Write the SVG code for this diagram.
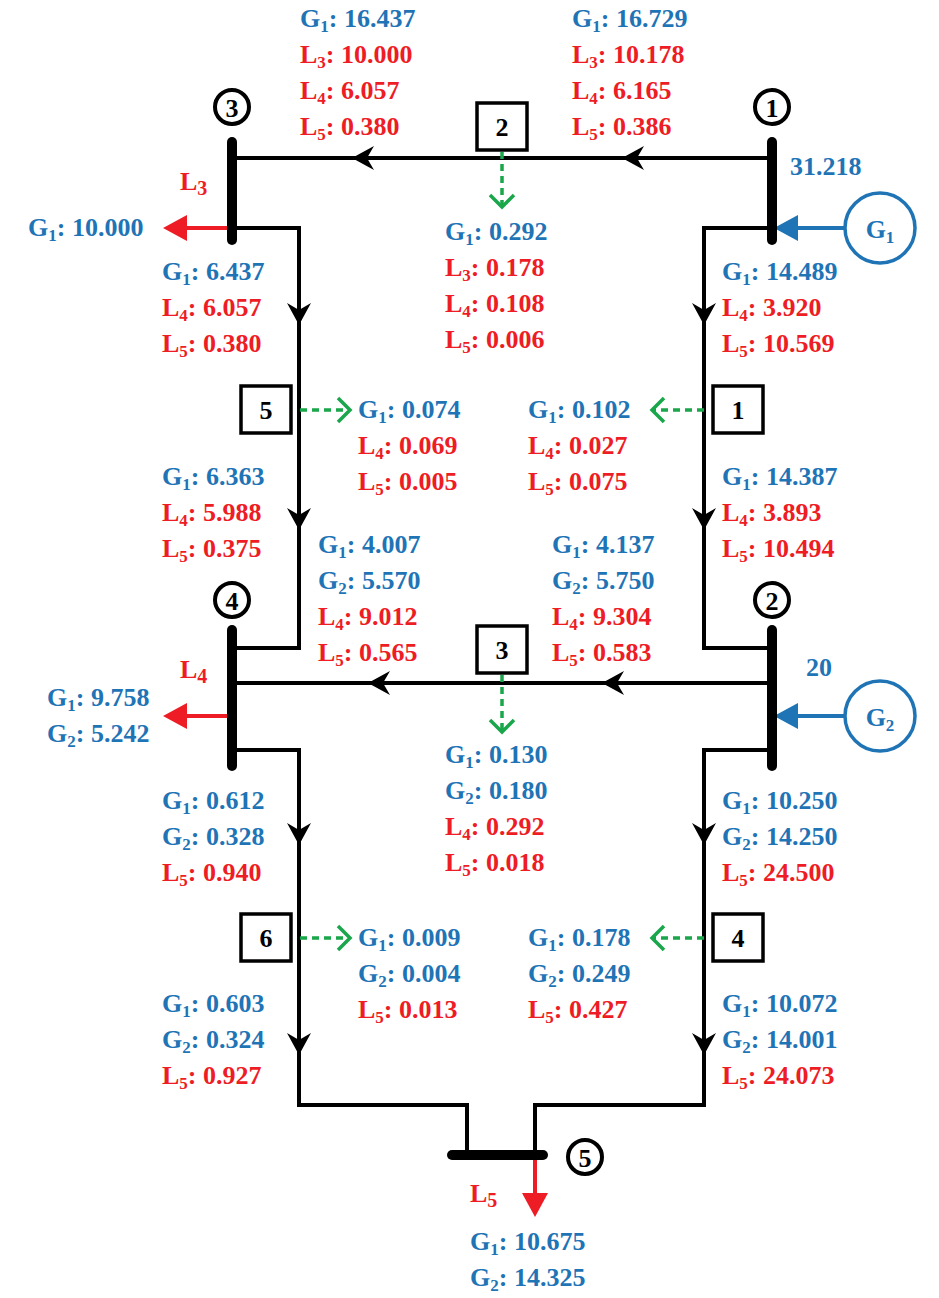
<svg xmlns="http://www.w3.org/2000/svg" xmlns:xlink="http://www.w3.org/1999/xlink" width="939" height="1298" viewBox="0 0 939 1298">
<style>
text{font-family:"Liberation Serif","Times New Roman",serif;font-weight:bold;font-size:26px}
.b{fill:#1f74b6}.r{fill:#ee1c24}.k{fill:#000}
.s{font-size:17px}
.ln{fill:none;stroke:#000;stroke-width:4}
.bus{stroke:#000;stroke-width:10;stroke-linecap:round}
.gd{fill:none;stroke:#1aa64a;stroke-width:3.5;stroke-dasharray:7,5}
.gh{fill:none;stroke:#1aa64a;stroke-width:3.5}
.box{fill:#fff;stroke:#000;stroke-width:3.5}
.nc{fill:#fff;stroke:#000;stroke-width:4}
.gc{fill:#fff;stroke:#1f74b6;stroke-width:3.5}
</style>
<defs>
<path id="ah" d="M0,0 L-22,-12 L-15,0 L-22,12 z" fill="#000"/>
<path id="ahb" d="M0,0 L-24,-13 L-24,13 z" fill="#1f74b6"/>
<path id="ahr" d="M0,0 L-24,-13 L-24,13 z" fill="#ee1c24"/>
</defs>
<g id="connectors">
<path class="ln" d="M232,158 H772"/>
<path class="ln" d="M232,228 H299 V648 H232"/>
<path class="ln" d="M772,228 H704 V648 H772"/>
<path class="ln" d="M232,683 H772"/>
<path class="ln" d="M232,750 H299 V1105 H467 V1155"/>
<path class="ln" d="M772,750 H704 V1105 H535 V1155"/>
<use href="#ah" transform="translate(352,158) rotate(180)"/>
<use href="#ah" transform="translate(622,158) rotate(180)"/>
<use href="#ah" transform="translate(368,683) rotate(180)"/>
<use href="#ah" transform="translate(602,683) rotate(180)"/>
<use href="#ah" transform="translate(299,325) rotate(90)"/>
<use href="#ah" transform="translate(299,530) rotate(90)"/>
<use href="#ah" transform="translate(704,325) rotate(90)"/>
<use href="#ah" transform="translate(704,530) rotate(90)"/>
<use href="#ah" transform="translate(299,845) rotate(90)"/>
<use href="#ah" transform="translate(299,1055) rotate(90)"/>
<use href="#ah" transform="translate(704,845) rotate(90)"/>
<use href="#ah" transform="translate(704,1055) rotate(90)"/>
<path d="M845,228 H795" stroke="#1f74b6" stroke-width="4"/>
<use href="#ahb" transform="translate(774,228) rotate(180)"/>
<path d="M845,716 H795" stroke="#1f74b6" stroke-width="4"/>
<use href="#ahb" transform="translate(774,716) rotate(180)"/>
<path d="M230,228 H185" stroke="#ee1c24" stroke-width="4"/>
<use href="#ahr" transform="translate(163,228) rotate(180)"/>
<path d="M230,716 H185" stroke="#ee1c24" stroke-width="4"/>
<use href="#ahr" transform="translate(163,716) rotate(180)"/>
<path d="M535,1157 V1195" stroke="#ee1c24" stroke-width="4"/>
<use href="#ahr" transform="translate(535,1217) rotate(90)"/>
<path class="gd" d="M502,152 V205"/><path class="gh" d="M490,195 L502,207 L514,195"/>
<path class="gd" d="M502,675 V730"/><path class="gh" d="M490,720 L502,732 L514,720"/>
<path class="gd" d="M300,410 H348"/><path class="gh" d="M338,398 L350,410 L338,422"/>
<path class="gd" d="M300,938 H348"/><path class="gh" d="M338,926 L350,938 L338,950"/>
<path class="gd" d="M704,410 H654"/><path class="gh" d="M664,398 L652,410 L664,422"/>
<path class="gd" d="M704,938 H654"/><path class="gh" d="M664,926 L652,938 L664,950"/>
</g>
<g id="bus3"><line class="bus" x1="232" y1="142" x2="232" y2="240"/><circle class="nc" cx="232" cy="107" r="17"/><text x="232" y="117" text-anchor="middle" class="k">3</text></g>
<g id="bus1"><line class="bus" x1="772" y1="142" x2="772" y2="240"/><circle class="nc" cx="772" cy="107" r="17"/><text x="772" y="117" text-anchor="middle" class="k">1</text></g>
<g id="bus4"><line class="bus" x1="232" y1="630" x2="232" y2="766"/><circle class="nc" cx="232" cy="600" r="17"/><text x="232" y="610" text-anchor="middle" class="k">4</text></g>
<g id="bus2"><line class="bus" x1="772" y1="630" x2="772" y2="766"/><circle class="nc" cx="772" cy="600" r="17"/><text x="772" y="610" text-anchor="middle" class="k">2</text></g>
<g id="bus5"><line class="bus" x1="452" y1="1155" x2="543" y2="1155"/><circle class="nc" cx="585" cy="1157" r="17"/><text x="585" y="1167" text-anchor="middle" class="k">5</text></g>
<g id="gen1"><circle class="gc" cx="880" cy="228" r="35"/><text x="880" y="238" text-anchor="middle" class="b">G<tspan class="s" dy="5">1</tspan></text><text x="790" y="175" class="b">31.218</text></g>
<g id="gen2"><circle class="gc" cx="880" cy="716" r="35"/><text x="880" y="726" text-anchor="middle" class="b">G<tspan class="s" dy="5">2</tspan></text><text x="806" y="676" class="b">20</text></g>
<g id="box2"><rect class="box" x="477" y="103" width="50" height="47"/><text x="502" y="136" text-anchor="middle" class="k">2</text></g>
<g id="box5"><rect class="box" x="241" y="386" width="50" height="47"/><text x="266" y="419" text-anchor="middle" class="k">5</text></g>
<g id="box1"><rect class="box" x="713" y="386" width="50" height="47"/><text x="738" y="419" text-anchor="middle" class="k">1</text></g>
<g id="box3"><rect class="box" x="477" y="626" width="50" height="47"/><text x="502" y="659" text-anchor="middle" class="k">3</text></g>
<g id="box6"><rect class="box" x="241" y="914" width="50" height="47"/><text x="266" y="947" text-anchor="middle" class="k">6</text></g>
<g id="box4"><rect class="box" x="713" y="914" width="50" height="47"/><text x="738" y="947" text-anchor="middle" class="k">4</text></g>
<g id="labels">
<text x="180" y="190" class="r">L<tspan class="s" dy="5" style="font-size:20px">3</tspan></text>
<text x="180" y="678" class="r">L<tspan class="s" dy="5" style="font-size:20px">4</tspan></text>
<text x="470" y="1202" class="r">L<tspan class="s" dy="5" style="font-size:20px">5</tspan></text>
<text x="28" y="236" class="b">G<tspan class="s" dy="5">1</tspan><tspan dy="-5">: 10.000</tspan></text>
<text x="47" y="706" class="b">G<tspan class="s" dy="5">1</tspan><tspan dy="-5">: 9.758</tspan></text>
<text x="47" y="742" class="b">G<tspan class="s" dy="5">2</tspan><tspan dy="-5">: 5.242</tspan></text>
<text x="470" y="1250" class="b">G<tspan class="s" dy="5">1</tspan><tspan dy="-5">: 10.675</tspan></text>
<text x="470" y="1286" class="b">G<tspan class="s" dy="5">2</tspan><tspan dy="-5">: 14.325</tspan></text>

<text x="300" y="27" class="b">G<tspan class="s" dy="5">1</tspan><tspan dy="-5">: 16.437</tspan></text>
<text x="300" y="63" class="r">L<tspan class="s" dy="5">3</tspan><tspan dy="-5">: 10.000</tspan></text>
<text x="300" y="99" class="r">L<tspan class="s" dy="5">4</tspan><tspan dy="-5">: 6.057</tspan></text>
<text x="300" y="135" class="r">L<tspan class="s" dy="5">5</tspan><tspan dy="-5">: 0.380</tspan></text>
<text x="572" y="27" class="b">G<tspan class="s" dy="5">1</tspan><tspan dy="-5">: 16.729</tspan></text>
<text x="572" y="63" class="r">L<tspan class="s" dy="5">3</tspan><tspan dy="-5">: 10.178</tspan></text>
<text x="572" y="99" class="r">L<tspan class="s" dy="5">4</tspan><tspan dy="-5">: 6.165</tspan></text>
<text x="572" y="135" class="r">L<tspan class="s" dy="5">5</tspan><tspan dy="-5">: 0.386</tspan></text>

<text x="445" y="240" class="b">G<tspan class="s" dy="5">1</tspan><tspan dy="-5">: 0.292</tspan></text>
<text x="445" y="276" class="r">L<tspan class="s" dy="5">3</tspan><tspan dy="-5">: 0.178</tspan></text>
<text x="445" y="312" class="r">L<tspan class="s" dy="5">4</tspan><tspan dy="-5">: 0.108</tspan></text>
<text x="445" y="348" class="r">L<tspan class="s" dy="5">5</tspan><tspan dy="-5">: 0.006</tspan></text>

<text x="162" y="280" class="b">G<tspan class="s" dy="5">1</tspan><tspan dy="-5">: 6.437</tspan></text>
<text x="162" y="316" class="r">L<tspan class="s" dy="5">4</tspan><tspan dy="-5">: 6.057</tspan></text>
<text x="162" y="352" class="r">L<tspan class="s" dy="5">5</tspan><tspan dy="-5">: 0.380</tspan></text>
<text x="722" y="280" class="b">G<tspan class="s" dy="5">1</tspan><tspan dy="-5">: 14.489</tspan></text>
<text x="722" y="316" class="r">L<tspan class="s" dy="5">4</tspan><tspan dy="-5">: 3.920</tspan></text>
<text x="722" y="352" class="r">L<tspan class="s" dy="5">5</tspan><tspan dy="-5">: 10.569</tspan></text>

<text x="358" y="418" class="b">G<tspan class="s" dy="5">1</tspan><tspan dy="-5">: 0.074</tspan></text>
<text x="358" y="454" class="r">L<tspan class="s" dy="5">4</tspan><tspan dy="-5">: 0.069</tspan></text>
<text x="358" y="490" class="r">L<tspan class="s" dy="5">5</tspan><tspan dy="-5">: 0.005</tspan></text>
<text x="528" y="418" class="b">G<tspan class="s" dy="5">1</tspan><tspan dy="-5">: 0.102</tspan></text>
<text x="528" y="454" class="r">L<tspan class="s" dy="5">4</tspan><tspan dy="-5">: 0.027</tspan></text>
<text x="528" y="490" class="r">L<tspan class="s" dy="5">5</tspan><tspan dy="-5">: 0.075</tspan></text>

<text x="162" y="485" class="b">G<tspan class="s" dy="5">1</tspan><tspan dy="-5">: 6.363</tspan></text>
<text x="162" y="521" class="r">L<tspan class="s" dy="5">4</tspan><tspan dy="-5">: 5.988</tspan></text>
<text x="162" y="557" class="r">L<tspan class="s" dy="5">5</tspan><tspan dy="-5">: 0.375</tspan></text>
<text x="722" y="485" class="b">G<tspan class="s" dy="5">1</tspan><tspan dy="-5">: 14.387</tspan></text>
<text x="722" y="521" class="r">L<tspan class="s" dy="5">4</tspan><tspan dy="-5">: 3.893</tspan></text>
<text x="722" y="557" class="r">L<tspan class="s" dy="5">5</tspan><tspan dy="-5">: 10.494</tspan></text>

<text x="318" y="553" class="b">G<tspan class="s" dy="5">1</tspan><tspan dy="-5">: 4.007</tspan></text>
<text x="318" y="589" class="b">G<tspan class="s" dy="5">2</tspan><tspan dy="-5">: 5.570</tspan></text>
<text x="318" y="625" class="r">L<tspan class="s" dy="5">4</tspan><tspan dy="-5">: 9.012</tspan></text>
<text x="318" y="661" class="r">L<tspan class="s" dy="5">5</tspan><tspan dy="-5">: 0.565</tspan></text>
<text x="552" y="553" class="b">G<tspan class="s" dy="5">1</tspan><tspan dy="-5">: 4.137</tspan></text>
<text x="552" y="589" class="b">G<tspan class="s" dy="5">2</tspan><tspan dy="-5">: 5.750</tspan></text>
<text x="552" y="625" class="r">L<tspan class="s" dy="5">4</tspan><tspan dy="-5">: 9.304</tspan></text>
<text x="552" y="661" class="r">L<tspan class="s" dy="5">5</tspan><tspan dy="-5">: 0.583</tspan></text>

<text x="445" y="763" class="b">G<tspan class="s" dy="5">1</tspan><tspan dy="-5">: 0.130</tspan></text>
<text x="445" y="799" class="b">G<tspan class="s" dy="5">2</tspan><tspan dy="-5">: 0.180</tspan></text>
<text x="445" y="835" class="r">L<tspan class="s" dy="5">4</tspan><tspan dy="-5">: 0.292</tspan></text>
<text x="445" y="871" class="r">L<tspan class="s" dy="5">5</tspan><tspan dy="-5">: 0.018</tspan></text>

<text x="162" y="809" class="b">G<tspan class="s" dy="5">1</tspan><tspan dy="-5">: 0.612</tspan></text>
<text x="162" y="845" class="b">G<tspan class="s" dy="5">2</tspan><tspan dy="-5">: 0.328</tspan></text>
<text x="162" y="881" class="r">L<tspan class="s" dy="5">5</tspan><tspan dy="-5">: 0.940</tspan></text>
<text x="722" y="809" class="b">G<tspan class="s" dy="5">1</tspan><tspan dy="-5">: 10.250</tspan></text>
<text x="722" y="845" class="b">G<tspan class="s" dy="5">2</tspan><tspan dy="-5">: 14.250</tspan></text>
<text x="722" y="881" class="r">L<tspan class="s" dy="5">5</tspan><tspan dy="-5">: 24.500</tspan></text>

<text x="358" y="946" class="b">G<tspan class="s" dy="5">1</tspan><tspan dy="-5">: 0.009</tspan></text>
<text x="358" y="982" class="b">G<tspan class="s" dy="5">2</tspan><tspan dy="-5">: 0.004</tspan></text>
<text x="358" y="1018" class="r">L<tspan class="s" dy="5">5</tspan><tspan dy="-5">: 0.013</tspan></text>
<text x="528" y="946" class="b">G<tspan class="s" dy="5">1</tspan><tspan dy="-5">: 0.178</tspan></text>
<text x="528" y="982" class="b">G<tspan class="s" dy="5">2</tspan><tspan dy="-5">: 0.249</tspan></text>
<text x="528" y="1018" class="r">L<tspan class="s" dy="5">5</tspan><tspan dy="-5">: 0.427</tspan></text>

<text x="162" y="1012" class="b">G<tspan class="s" dy="5">1</tspan><tspan dy="-5">: 0.603</tspan></text>
<text x="162" y="1048" class="b">G<tspan class="s" dy="5">2</tspan><tspan dy="-5">: 0.324</tspan></text>
<text x="162" y="1084" class="r">L<tspan class="s" dy="5">5</tspan><tspan dy="-5">: 0.927</tspan></text>
<text x="722" y="1012" class="b">G<tspan class="s" dy="5">1</tspan><tspan dy="-5">: 10.072</tspan></text>
<text x="722" y="1048" class="b">G<tspan class="s" dy="5">2</tspan><tspan dy="-5">: 14.001</tspan></text>
<text x="722" y="1084" class="r">L<tspan class="s" dy="5">5</tspan><tspan dy="-5">: 24.073</tspan></text>
</g>
</svg>
